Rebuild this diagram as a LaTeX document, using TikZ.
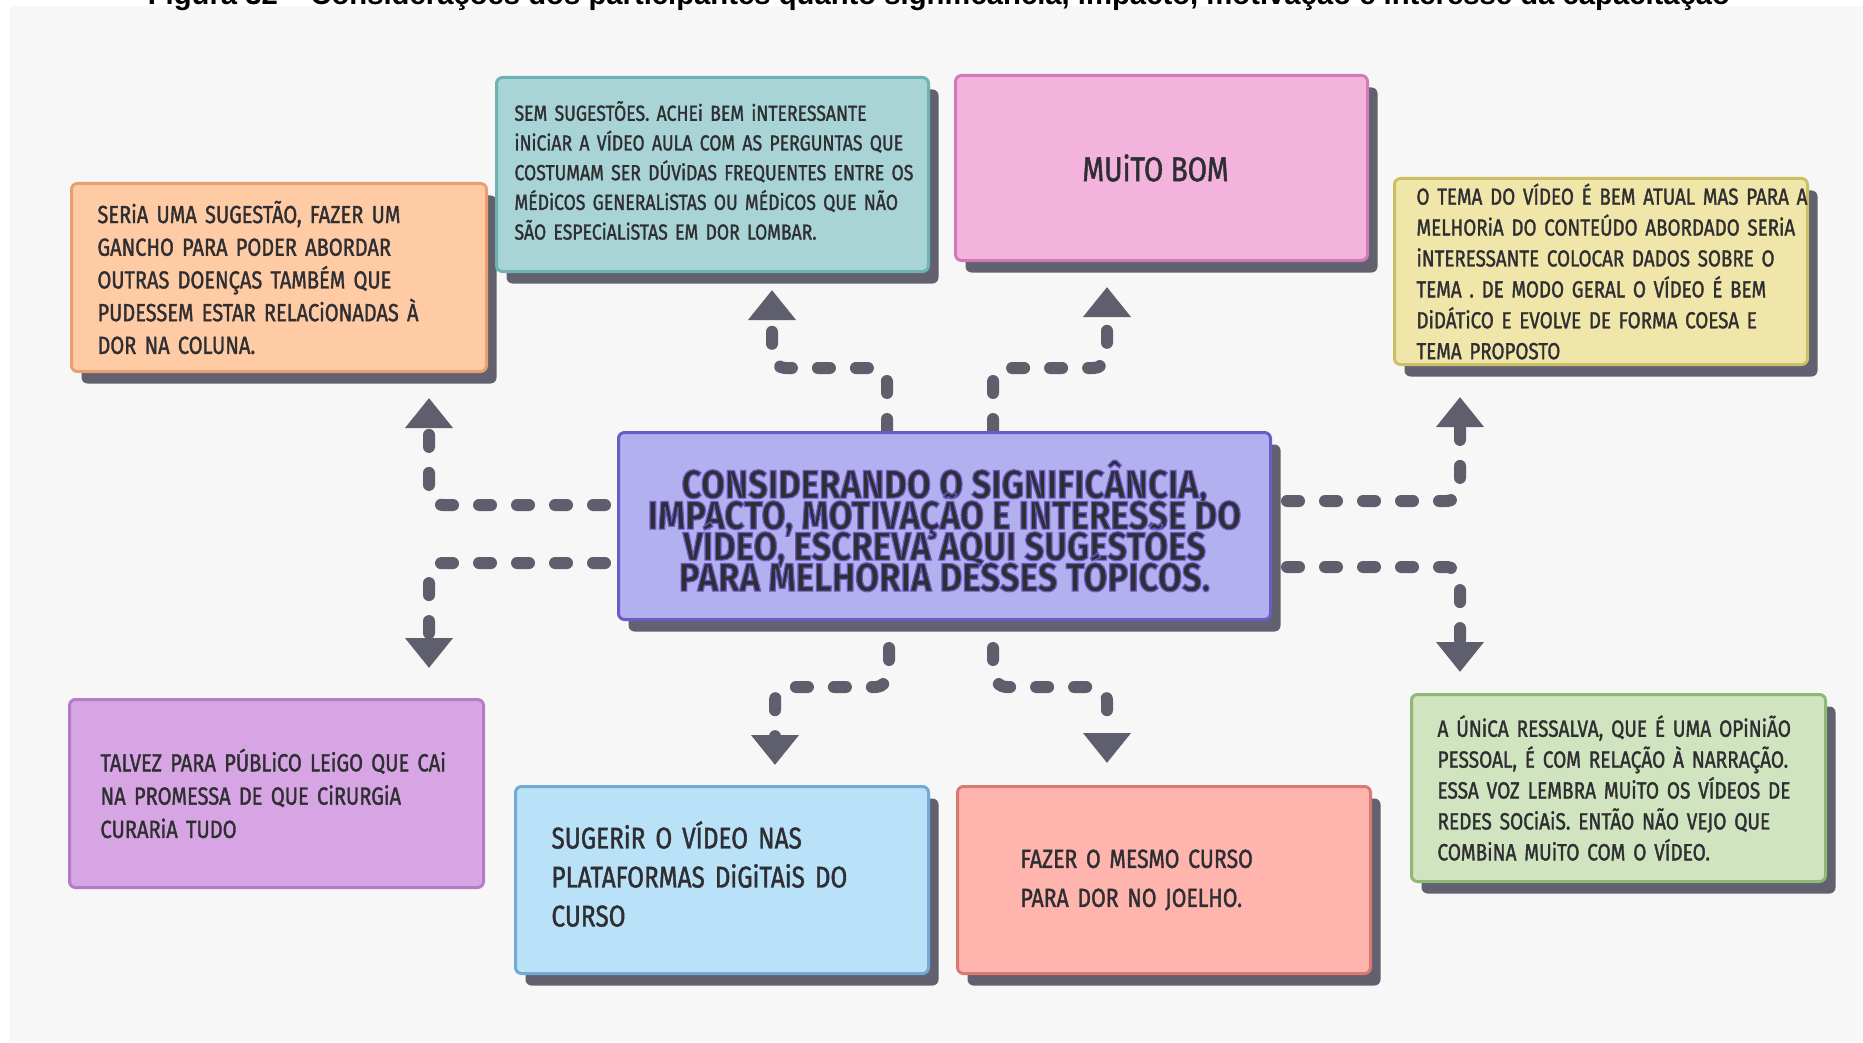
\documentclass[tikz,border=0pt]{standalone}
\usepackage{fontspec}
\usetikzlibrary{arrows.meta,shadows}
\newfontfamily\handfont{Fira Sans}[FakeStretch=0.81, FakeBold=1.4]
\newfontfamily\headfont{Fira Sans Bold}[FakeStretch=0.87, FakeBold=3]
\newfontfamily\captionfont{Liberation Sans}

\definecolor{bgc}{HTML}{F7F7F7}
\definecolor{txt}{HTML}{2F2F33}
\definecolor{shadc}{HTML}{62616F}
\definecolor{arrc}{HTML}{5F5E6D}
\definecolor{orangeF}{HTML}{FFCBA4}\definecolor{orangeD}{HTML}{E7A06E}
\definecolor{tealF}{HTML}{A8D4D5}\definecolor{tealD}{HTML}{6FB2B3}
\definecolor{pinkF}{HTML}{F3B3DD}\definecolor{pinkD}{HTML}{CF7BB6}
\definecolor{yellowF}{HTML}{F0E6A9}\definecolor{yellowD}{HTML}{CDBF66}
\definecolor{lilacF}{HTML}{B3B0EF}\definecolor{lilacD}{HTML}{6B5BC9}
\definecolor{purpleF}{HTML}{D8A5E4}\definecolor{purpleD}{HTML}{B47BC7}
\definecolor{blueF}{HTML}{B9E1F8}\definecolor{blueD}{HTML}{72AAD6}
\definecolor{salmonF}{HTML}{FFB4AD}\definecolor{salmonD}{HTML}{D97A72}
\definecolor{greenF}{HTML}{CFE4BF}\definecolor{greenD}{HTML}{8DB977}

% heading text: dark fill, purple stroke (the emboldening stroke takes the stroke colour)
\newcommand\rimtext[1]{\special{pdf:bcolor [0.184 0.184 0.2] [0.42 0.357 0.788]}#1\special{pdf:ecolor}}
% left margin of the text inside a card
\newcommand\indentby[1]{\leftskip=#1\relax}

\tikzset{
  card/.style={rounded corners=6pt, line width=3pt, anchor=north west,
    inner xsep=0pt, inner ysep=0pt, align=left, text=txt, font=\handfont},
  shade/.style={drop shadow={shadow xshift=10pt, shadow yshift=-12pt,
    opacity=1, fill=shadc}},
  flow/.style={draw=arrc, line width=12pt, line cap=round,
    dash pattern=on 12pt off 26pt, rounded corners=14pt,
    -{Triangle[width=46pt,length=30pt]}},
}

\begin{document}
\begin{tikzpicture}[x=1pt,y=-1pt]
\lineskiplimit=-100pt\relax\lineskip=0pt\relax
\useasboundingbox (0,0) rectangle (1863,1043);
\fill[white] (0,0) rectangle (1863,1043);
\fill[bgc] (10,6) rectangle (1863,1041);

% caption line, cut at the top edge
\node[anchor=base, inner sep=0pt, font=\captionfont\bfseries] (caption) at (939,4.5)
  {\resizebox{1582pt}{!}{Figura 32 – Considerações dos participantes quanto significância, impacto, motivação e interesse da capacitação}};

% connector end points
\coordinate (a1s) at (605,505); \coordinate (a1e) at (429,398);
\coordinate (a2s) at (605,563); \coordinate (a2e) at (429,668);
\coordinate (a3s) at (887,431); \coordinate (a3e) at (772,290);
\coordinate (a4s) at (993,431); \coordinate (a4e) at (1107,287);
\coordinate (a5s) at (1287,501); \coordinate (a5e) at (1460,397);
\coordinate (a6s) at (1287,567); \coordinate (a6e) at (1460,672);
\coordinate (a7s) at (889,648); \coordinate (a7e) at (775,765);
\coordinate (a8s) at (993,648); \coordinate (a8e) at (1107,763);

\draw[flow] (a1s) -| (a1e);
\draw[flow] (a2s) -| (a2e);
\draw[flow] (a3s) -- (a3s |- 0,368) -| (a3e);
\draw[flow] (a4s) -- (a4s |- 0,368) -| (a4e);
\draw[flow] (a5s) -| (a5e);
\draw[flow] (a6s) -| (a6e);
\draw[flow] (a7s) -- (a7s |- 0,687) -| (a7e);
\draw[flow] (a8s) -- (a8s |- 0,687) -| (a8e);

% question in the middle
\node[card, shade, fill=lilacF, draw=lilacD, minimum width=652pt, minimum height=187pt,
  align=center, font=\headfont\fontsize{40}{31}\selectfont] (center) at (617,431)
  {\rimtext{CONSIDERANDO O SIGNIFICÂNCIA,}\\
   \rimtext{IMPACTO, MOTIVAÇÃO E INTERESSE DO}\\
   \rimtext{VÍDEO, ESCREVA AQUI SUGESTÕES}\\
   \rimtext{PARA MELHORIA DESSES TÓPICOS.}};

% answers
\node[card, shade, fill=orangeF, draw=orangeD, minimum width=415pt, minimum height=188pt,
  text width=415pt, font=\handfont\fontsize{24.7}{32.7}\selectfont] (orange) at (70,182)
  {\indentby{26pt}SERiA UMA SUGESTÃO, FAZER UM\\
   GANCHO PARA PODER ABORDAR\\
   OUTRAS DOENÇAS TAMBÉM QUE\\
   PUDESSEM ESTAR RELACiONADAS À\\
   DOR NA COLUNA.\par};

\node[card, shade, fill=tealF, draw=tealD, minimum width=432pt, minimum height=194pt,
  text width=432pt, font=\handfont\fontsize{21.8}{29.7}\selectfont] (teal) at (495,76)
  {\indentby{18pt}SEM SUGESTÕES. ACHEi BEM iNTERESSANTE\\
   \mbox{iNiCiAR A VÍDEO AULA COM AS PERGUNTAS QUE}\\
   \mbox{COSTUMAM SER DÚViDAS FREQUENTES ENTRE OS}\\
   MÉDiCOS GENERALiSTAS OU MÉDiCOS QUE NÃO\\
   SÃO ESPECiALiSTAS EM DOR LOMBAR.\par\vspace*{8pt}};

\node[card, shade, fill=pinkF, draw=pinkD, minimum width=412pt, minimum height=185pt,
  align=center, font=\handfont\fontsize{34.5}{40}\selectfont] (pink) at (954,74)
  {MUiTO BOM\hspace*{12pt}};

\node[card, shade, fill=yellowF, draw=yellowD, minimum width=413pt, minimum height=186pt,
  text width=413pt, font=\handfont\fontsize{23.2}{30.9}\selectfont] (yellow) at (1393,177)
  {\indentby{22pt}\mbox{O TEMA DO VÍDEO É BEM ATUAL MAS PARA A}\\
   \mbox{MELHORiA DO CONTEÚDO ABORDADO SERiA}\\
   iNTERESSANTE COLOCAR DADOS SOBRE O\\
   TEMA . DE MODO GERAL O VÍDEO É BEM\\
   DiDÁTiCO E EVOLVE DE FORMA COESA E\\
   TEMA PROPOSTO\par};

\node[card, fill=purpleF, draw=purpleD, minimum width=414pt, minimum height=188pt,
  text width=414pt, font=\handfont\fontsize{24.8}{33.3}\selectfont] (purple) at (68,698)
  {\indentby{31pt}TALVEZ PARA PÚBLiCO LEiGO QUE CAi\\
   NA PROMESSA DE QUE CiRURGiA\\
   CURARiA TUDO\par};

\node[card, shade, fill=blueF, draw=blueD, minimum width=413pt, minimum height=187pt,
  text width=413pt, font=\handfont\fontsize{30}{39}\selectfont] (blue) at (514,785)
  {\indentby{36pt}SUGERiR O VÍDEO NAS\\
   PLATAFORMAS DiGiTAiS DO\\
   CURSO\par\vspace*{12pt}};

\node[card, shade, fill=salmonF, draw=salmonD, minimum width=413pt, minimum height=187pt,
  text width=413pt, font=\handfont\fontsize{26.2}{39}\selectfont] (salmon) at (956,785)
  {\indentby{63pt}FAZER O MESMO CURSO\\
   PARA DOR NO JOELHO.\par};

\node[card, shade, fill=greenF, draw=greenD, minimum width=414pt, minimum height=187pt,
  text width=414pt, font=\handfont\fontsize{23.5}{30.9}\selectfont] (green) at (1410,693)
  {\indentby{26pt}\mbox{A ÚNiCA RESSALVA, QUE É UMA OPiNiÃO}\\
   \mbox{PESSOAL, É COM RELAÇÃO À NARRAÇÃO.}\\
   ESSA VOZ LEMBRA MUiTO OS VÍDEOS DE\\
   REDES SOCiAiS. ENTÃO NÃO VEJO QUE\\
   COMBiNA MUiTO COM O VÍDEO.\par};
\end{tikzpicture}
\end{document}
